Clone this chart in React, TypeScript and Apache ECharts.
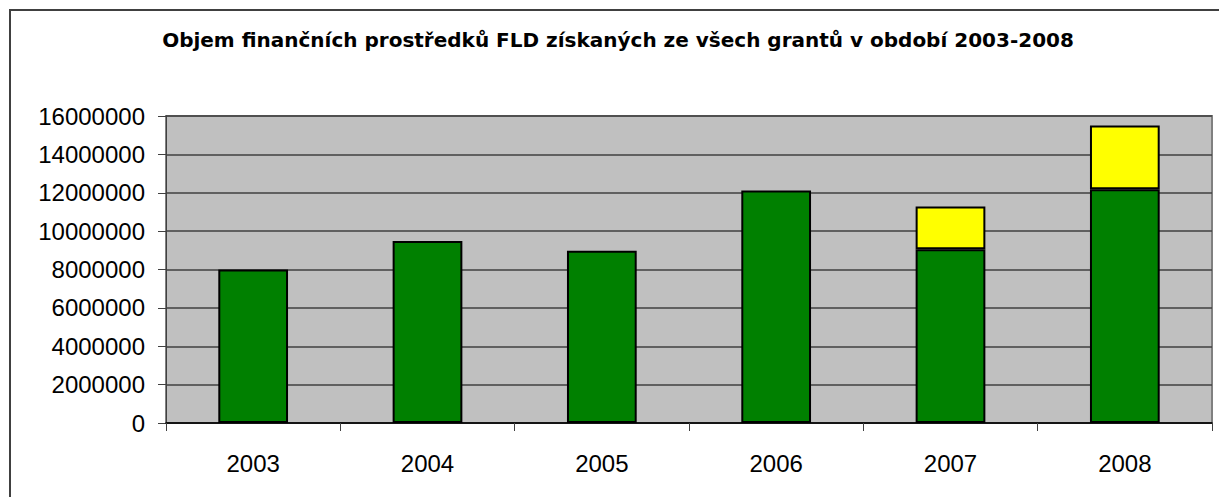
import React, { useEffect, useRef } from "react";
import * as echarts from "echarts";

const titleText = "Objem finančních prostředků FLD získaných ze všech grantů v období 2003-2008";
const years = ["2003", "2004", "2005", "2006", "2007", "2008"];
const greenValues = [8000000, 9480000, 8980000, 12120000, 9060000, 12180000];
const yellowValues = [0, 0, 0, 0, 2220000, 3320000];
const yMin = 0;
const yMax = 16000000;
const yInterval = 2000000;

export default function App() {
  const ref = useRef<HTMLDivElement>(null);
  useEffect(() => {
    if (!ref.current) return;
    const chart = echarts.init(ref.current, null, { renderer: "svg" });
    const font = "'Liberation Sans', Arial, sans-serif";
    chart.setOption({
      animation: false,
      backgroundColor: "#ffffff",
      title: {
        text: titleText,
        left: 613,
        top: 25,
        textAlign: "center",
        textStyle: { fontFamily: "'DejaVu Sans', sans-serif", fontWeight: "bold", fontSize: 20, color: "#000" },
      },
      graphic: [
        {
          type: "rect",
          shape: { x: 10, y: 10, width: 1230, height: 520 },
          style: { fill: "none", stroke: "#404040", lineWidth: 2 },
          silent: true,
          z: -1,
        },
      ],
      grid: {
        left: 166,
        top: 116,
        right: 7,
        bottom: 74,
        show: true,
        backgroundColor: "#C0C0C0",
        borderColor: "#808080",
        borderWidth: 2,
      },
      xAxis: {
        type: "category",
        data: years,
        boundaryGap: true,
        axisLine: { show: true, lineStyle: { color: "#000", width: 1.5 } },
        axisTick: { show: true, length: 8, lineStyle: { color: "#404040" } },
        axisLabel: { fontFamily: font, fontSize: 24, color: "#000", margin: 28 },
        z: 10,
      },
      yAxis: {
        type: "value",
        min: yMin,
        max: yMax,
        interval: yInterval,
        axisLine: { show: true, lineStyle: { color: "#404040", width: 1 } },
        axisTick: { show: true, length: 8, lineStyle: { color: "#404040" } },
        axisLabel: {
          fontFamily: font,
          fontSize: 24,
          color: "#000",
          margin: 21,
          formatter: (v: number) => String(v),
        },
        splitLine: { show: true, lineStyle: { color: "#404040", width: 1.5 } },
      },
      series: [
        {
          type: "bar",
          stack: "total",
          data: greenValues,
          barWidth: "40%",
          itemStyle: { color: "#008000", borderColor: "#000", borderWidth: 2 },
        },
        {
          type: "bar",
          stack: "total",
          data: yellowValues.map((v) => (v === 0 ? null : v)),
          barWidth: "40%",
          itemStyle: { color: "#FFFF00", borderColor: "#000", borderWidth: 2 },
        },
      ],
    });
    return () => chart.dispose();
  }, []);
  return (
    <div
      ref={ref}
      style={{ position: "fixed", left: 0, top: 0, width: 1219, height: 497 }}
    />
  );
}
